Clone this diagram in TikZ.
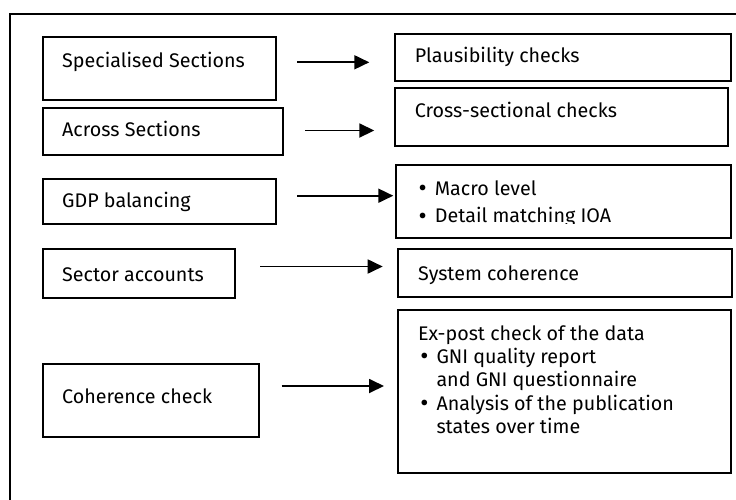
\documentclass[tikz,border=0pt]{standalone}
\usepackage{fontspec}
\setmainfont{Fira Sans}
\usetikzlibrary{arrows.meta}
\begin{document}
\begin{tikzpicture}[x=1pt,y=-1pt,
  box/.style={draw,line width=1.8pt,rectangle,inner sep=0pt},
  lbl/.style={anchor=base west,inner sep=0pt,font=\fontsize{19.7}{23}\selectfont},
  bul/.style={anchor=base west,inner sep=0pt,font=\fontsize{25}{23}\selectfont},
  conn/.style={line width=1.8pt,-{Triangle[length=15pt,width=14pt]}}]
\useasboundingbox (0,0) rectangle (736,499);
\draw[line width=2pt] (10,500) -- (10,14) -- (737,14);
% left boxes
\node[box,minimum width=233pt,minimum height=63pt,anchor=north west] (b1) at (41.7,36) {};
\node[box,minimum width=240pt,minimum height=47.6pt,anchor=north west] (b2) at (41.7,106.7) {};
\node[box,minimum width=233pt,minimum height=44.4pt,anchor=north west] (b3) at (41.7,178.3) {};
\node[box,minimum width=192.3pt,minimum height=48.4pt,anchor=north west] (b4) at (41.7,248.3) {};
\node[box,minimum width=216pt,minimum height=73pt,anchor=north west] (b5) at (41.7,362.7) {};
% right boxes
\node[box,minimum width=336.3pt,minimum height=47.3pt,anchor=north west] (r1) at (394,32.7) {};
\node[box,minimum width=333pt,minimum height=58.3pt,anchor=north west] (r2) at (394,86.7) {};
\node[box,minimum width=335.6pt,minimum height=72.7pt,anchor=north west] (r3) at (394.7,164) {};
\node[box,minimum width=334pt,minimum height=47.4pt,anchor=north west] (r4) at (397.3,248.3) {};
\node[box,minimum width=333pt,minimum height=162.7pt,anchor=north west] (r5) at (397.3,309) {};
% texts
\node[lbl] (t1) at (62,67) {Specialised Sections};
\node[lbl] (t2) at (62,136.7) {Across Sections};
\node[lbl] (t3) at (62,207) {GDP balancing};
\node[lbl] (t4) at (62,281.7) {Sector accounts};
\node[lbl] (t5) at (62,403.3) {Coherence check};
\node[lbl] (s1) at (414.7,62.3) {Plausibility checks};
\node[lbl] (s2) at (414.7,117) {Cross-sectional checks};
\begin{scope}
\clip (394.7,164) rectangle (730.3,223.3);
\node[bul] (s3a) at (418.5,196.3) {•};
\node[lbl] (s3b) at (434.7,195) {Macro level};
\node[bul] (s3c) at (418.5,224) {•};
\node[lbl] (s3d) at (434.7,222.7) {Detail matching IOA};
\end{scope}
\node[lbl] (s4) at (418,280.7) {System coherence};
\node[lbl] (s5a) at (418,340) {Ex-post check of the data};
\node[bul] (s5b) at (420.1,364.6) {•};
\node[lbl] (s5c) at (436.3,363.3) {GNI quality report};
\node[lbl] (s5d) at (436.3,386.7) {and GNI questionnaire};
\node[bul] (s5e) at (420.1,411.3) {•};
\node[lbl] (s5f) at (436.3,410) {Analysis of the publication};
\node[lbl] (s5g) at (436.3,433.3) {states over time};
% arrow endpoints
\coordinate (a1s) at (297,62.3);  \coordinate (a1e) at (369.3,62.3);
\coordinate (a2s) at (305,130.5); \coordinate (a2e) at (374.3,130.5);
\coordinate (a3s) at (297,195.7); \coordinate (a3e) at (393.3,195.7);
\coordinate (a4s) at (260,266.5); \coordinate (a4e) at (382.7,266.5);
\coordinate (a5s) at (281.7,386); \coordinate (a5e) at (384,386);
\draw[conn] (a1s) -- (a1e);
\draw[conn] (a2s) -- (a2e);
\draw[conn] (a3s) -- (a3e);
\draw[conn] (a4s) -- (a4e);
\draw[conn] (a5s) -- (a5e);
\end{tikzpicture}
\end{document}
